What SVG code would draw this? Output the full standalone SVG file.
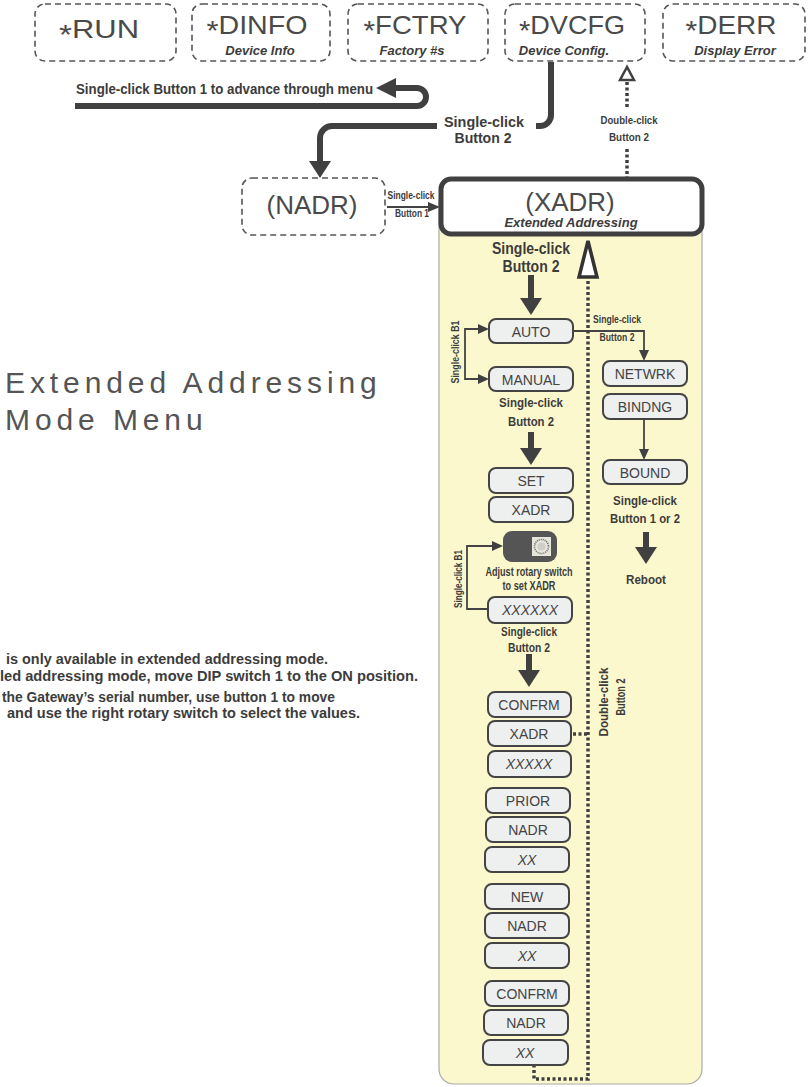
<svg xmlns="http://www.w3.org/2000/svg" width="809" height="1087" viewBox="0 0 809 1087">
<defs>
<style>
.dash{fill:#fff;stroke:#555;stroke-width:1.6;stroke-dasharray:6 4}
.big{font-family:"Liberation Sans",Arial,sans-serif;font-size:26px;fill:#4a4a4a;text-anchor:middle}
.star{font-size:28px}
.sub{font-family:"Liberation Sans",Arial,sans-serif;font-size:13px;font-weight:bold;font-style:italic;fill:#3c3c3c;text-anchor:middle}
.lbl{font-family:"Liberation Sans",Arial,sans-serif;font-weight:bold;fill:#3c3c3c;text-anchor:middle}
.lbls{font-family:"Liberation Sans",Arial,sans-serif;font-weight:bold;fill:#3c3c3c;text-anchor:start}
.box{fill:#eeefef;stroke:#444;stroke-width:2}
.bt{font-family:"Liberation Sans",Arial,sans-serif;font-size:14px;fill:#444;text-anchor:middle}
.it{font-style:italic}
.thick{fill:none;stroke:#404040;stroke-width:6}
.thin{fill:none;stroke:#444;stroke-width:1.8}
.dot{fill:none;stroke:#404040;stroke-width:3.5;stroke-dasharray:3 2.5}
.head{fill:#404040}
.note{font-family:"Liberation Sans",Arial,sans-serif;font-size:14px;font-weight:bold;fill:#3c3c3c}
.ttl{font-family:"Liberation Sans",Arial,sans-serif;font-size:30px;fill:#555;letter-spacing:4.9px}
</style>
</defs>
<rect width="809" height="1087" fill="#fff"/>

<g id="panel">
<path d="M439 200 V1069 A15 15 0 0 0 454 1084 H687 A15 15 0 0 0 702 1069 V200 Z" fill="#fcf8cd" stroke="#aaa" stroke-width="1.2"/>
</g>

<g id="title">
<text class="ttl" x="5" y="393">Extended Addressing</text>
<text class="ttl" x="5" y="430">Mode Menu</text>
</g>

<g id="notes">
<text class="note" x="6" y="664" textLength="322" lengthAdjust="spacingAndGlyphs">is only available in extended addressing mode.</text>
<text class="note" x="0" y="681" textLength="418" lengthAdjust="spacingAndGlyphs">led addressing mode, move DIP switch 1 to the ON position.</text>
<text class="note" x="2" y="702" textLength="333" lengthAdjust="spacingAndGlyphs">the Gateway’s serial number, use button 1 to move</text>
<text class="note" x="7" y="718" textLength="353" lengthAdjust="spacingAndGlyphs">and use the right rotary switch to select the values.</text>
</g>

<g id="run">
<rect class="dash" x="35" y="4" width="141" height="57" rx="10"/>
<text class="big" x="99" y="38" textLength="80" lengthAdjust="spacingAndGlyphs"><tspan class="star" dy="6">*</tspan><tspan dy="-6">RUN</tspan></text>
</g>
<g id="dinfo">
<rect class="dash" x="192" y="4" width="138" height="57" rx="10"/>
<text class="big" x="257" y="34" textLength="101" lengthAdjust="spacingAndGlyphs"><tspan class="star" dy="6">*</tspan><tspan dy="-6">DINFO</tspan></text>
<text class="sub" x="260" y="55">Device Info</text>
</g>
<g id="fctry">
<rect class="dash" x="348" y="4" width="140" height="57" rx="10"/>
<text class="big" x="415" y="34" textLength="103" lengthAdjust="spacingAndGlyphs"><tspan class="star" dy="6">*</tspan><tspan dy="-6">FCTRY</tspan></text>
<text class="sub" x="412" y="55">Factory #s</text>
</g>
<g id="dvcfg">
<rect class="dash" x="505" y="4" width="140" height="57" rx="10"/>
<text class="big" x="572" y="34" textLength="106" lengthAdjust="spacingAndGlyphs"><tspan class="star" dy="6">*</tspan><tspan dy="-6">DVCFG</tspan></text>
<text class="sub" x="564" y="55">Device Config.</text>
</g>
<g id="derr">
<rect class="dash" x="663" y="4" width="142" height="57" rx="10"/>
<text class="big" x="731" y="34" textLength="91" lengthAdjust="spacingAndGlyphs"><tspan class="star" dy="6">*</tspan><tspan dy="-6">DERR</tspan></text>
<text class="sub" x="735" y="55">Display Error</text>
</g>

<g id="nadr">
<rect class="dash" x="242" y="178" width="143" height="57" rx="10"/>
<text class="big" x="312" y="214">(NADR)</text>
</g>
<g id="xadr">
<rect x="441" y="179" width="261" height="55" rx="10" fill="#fff" stroke="#404040" stroke-width="5"/>
<text class="big" x="570" y="211">(XADR)</text>
<text class="sub" x="571" y="227">Extended Addressing</text>
</g>

<g id="connectors">
<path class="thick" d="M75 106 H417 A9 9 0 0 0 417 88 H394"/>
<polygon class="head" points="376,88 396,78 396,98"/>
<path class="thick" d="M551 62 V115 A11 11 0 0 1 540 126 H536"/>
<path class="thick" d="M437 126 H332 A12 12 0 0 0 320 138 V163"/>
<polygon class="head" points="309,161 331,161 320,178"/>
<path class="dot" d="M627 82 V108 M627 149 V178"/>
<polygon points="627,67 620,80 634,80" fill="#fff" stroke="#404040" stroke-width="2.5"/>
<path class="thin" d="M387 207 H430"/>
<polygon class="head" points="428,202 440,207 428,212"/>
<path class="thick" d="M531 275 V300"/>
<polygon class="head" points="520,298 542,298 531,315"/>
<path class="thick" d="M531 432 V450"/>
<polygon class="head" points="520,448 542,448 531,465"/>
<path class="thick" d="M529 654 V672"/>
<polygon class="head" points="518,670 540,670 529,687"/>
<path class="thick" d="M646 532 V549"/>
<polygon class="head" points="635,547 657,547 646,564"/>
<path class="thin" d="M479 329 H465 V379 H479"/>
<polygon class="head" points="478,324 489,329 478,334"/>
<polygon class="head" points="478,374 489,379 478,384"/>
<path class="thin" d="M573 331 H644 V351"/>
<polygon class="head" points="639,350 649,350 644,361"/>
<path class="thin" d="M644 419 V450"/>
<polygon class="head" points="639,449 649,449 644,460"/>
<path class="thin" d="M488 609 H467 V546 H493"/>
<polygon class="head" points="492,541 503,546 492,551"/>
<path class="dot" d="M588 281 V1079 H534 V1066 M573 734 H588"/>
<polygon points="588,241 579,277 597,277" fill="#fff" stroke="#333" stroke-width="3.5"/>
</g>

<g id="labels">
<text class="lbls" x="76" y="94" font-size="14" textLength="297" lengthAdjust="spacingAndGlyphs">Single-click Button 1 to advance through menu</text>
<text class="lbl" x="484" y="127" font-size="15" textLength="80" lengthAdjust="spacingAndGlyphs">Single-click</text>
<text class="lbl" x="483" y="143" font-size="15" textLength="57" lengthAdjust="spacingAndGlyphs">Button 2</text>
<text class="lbl" x="629" y="124" font-size="11" textLength="57" lengthAdjust="spacingAndGlyphs">Double-click</text>
<text class="lbl" x="629" y="141" font-size="11" textLength="40" lengthAdjust="spacingAndGlyphs">Button 2</text>
<text class="lbl" x="411" y="199" font-size="10" textLength="47" lengthAdjust="spacingAndGlyphs">Single-click</text>
<text class="lbl" x="412" y="217" font-size="10" textLength="34" lengthAdjust="spacingAndGlyphs">Button 1</text>
<text class="lbl" x="531" y="254" font-size="16" textLength="78" lengthAdjust="spacingAndGlyphs">Single-click</text>
<text class="lbl" x="531" y="272" font-size="16" textLength="57" lengthAdjust="spacingAndGlyphs">Button 2</text>
<text class="lbl" font-size="10" textLength="63" lengthAdjust="spacingAndGlyphs" transform="translate(459,352) rotate(-90)">Single-click B1</text>
<text class="lbl" x="617" y="323" font-size="10" textLength="48" lengthAdjust="spacingAndGlyphs">Single-click</text>
<text class="lbl" x="617" y="341" font-size="10" textLength="35" lengthAdjust="spacingAndGlyphs">Button 2</text>
<text class="lbl" x="531" y="407" font-size="13" textLength="64" lengthAdjust="spacingAndGlyphs">Single-click</text>
<text class="lbl" x="531" y="426" font-size="13" textLength="46" lengthAdjust="spacingAndGlyphs">Button 2</text>
<text class="lbl" x="645" y="505" font-size="13" textLength="64" lengthAdjust="spacingAndGlyphs">Single-click</text>
<text class="lbl" x="645" y="523" font-size="13" textLength="70" lengthAdjust="spacingAndGlyphs">Button 1 or 2</text>
<text class="lbl" x="646" y="584" font-size="13" textLength="40" lengthAdjust="spacingAndGlyphs">Reboot</text>
<text class="lbl" font-size="10" textLength="58" lengthAdjust="spacingAndGlyphs" transform="translate(462,579) rotate(-90)">Single-click B1</text>
<text class="lbl" x="529" y="576" font-size="12" textLength="87" lengthAdjust="spacingAndGlyphs">Adjust rotary switch</text>
<text class="lbl" x="529" y="590" font-size="12" textLength="53" lengthAdjust="spacingAndGlyphs">to set XADR</text>
<text class="lbl" x="529" y="636" font-size="12" textLength="56" lengthAdjust="spacingAndGlyphs">Single-click</text>
<text class="lbl" x="529" y="652" font-size="12" textLength="42" lengthAdjust="spacingAndGlyphs">Button 2</text>
<text class="lbl" font-size="13" textLength="69" lengthAdjust="spacingAndGlyphs" transform="translate(608,702) rotate(-90)">Double-click</text>
<text class="lbl" font-size="13" textLength="37" lengthAdjust="spacingAndGlyphs" transform="translate(625,697) rotate(-90)">Button 2</text>
</g>

<g id="auto"><rect class="box" x="489" y="319" width="84" height="24" rx="7"/><text class="bt" x="531" y="337">AUTO</text></g>
<g id="manual"><rect class="box" x="489" y="367" width="84" height="24" rx="7"/><text class="bt" x="531" y="385">MANUAL</text></g>
<g id="set"><rect class="box" x="489" y="468" width="84" height="25" rx="7"/><text class="bt" x="531" y="486">SET</text></g>
<g id="xadr2"><rect class="box" x="489" y="497" width="84" height="25" rx="7"/><text class="bt" x="531" y="515">XADR</text></g>
<g id="rotary">
<rect x="503" y="531" width="54" height="31" rx="9" fill="#555"/>
<rect x="532" y="537" width="19" height="19" fill="#e6e6dc"/>
<circle cx="541.5" cy="546.5" r="7" fill="none" stroke="#666" stroke-width="1.6" stroke-dasharray="1 1"/>
<circle cx="541.5" cy="546.5" r="4" fill="#cfcfc8"/>
</g>
<g id="xxxxxx"><rect class="box" x="488" y="597" width="84" height="26" rx="7"/><text class="bt it" x="530" y="615">XXXXXX</text></g>
<g id="confrm1"><rect class="box" x="488" y="692" width="83" height="25" rx="7"/><text class="bt" x="529" y="710">CONFRM</text></g>
<g id="xadr3"><rect class="box" x="488" y="721" width="83" height="25" rx="7"/><text class="bt" x="529" y="739">XADR</text></g>
<g id="xxxxx"><rect class="box" x="488" y="751" width="83" height="26" rx="7"/><text class="bt it" x="529" y="769">XXXXX</text></g>
<g id="prior"><rect class="box" x="486" y="788" width="84" height="25" rx="7"/><text class="bt" x="528" y="806">PRIOR</text></g>
<g id="nadr2"><rect class="box" x="486" y="817" width="84" height="25" rx="7"/><text class="bt" x="528" y="835">NADR</text></g>
<g id="xx1"><rect class="box" x="485" y="847" width="84" height="25" rx="7"/><text class="bt it" x="527" y="865">XX</text></g>
<g id="new"><rect class="box" x="485" y="884" width="84" height="25" rx="7"/><text class="bt" x="527" y="902">NEW</text></g>
<g id="nadr3"><rect class="box" x="485" y="913" width="84" height="25" rx="7"/><text class="bt" x="527" y="931">NADR</text></g>
<g id="xx2"><rect class="box" x="485" y="943" width="84" height="25" rx="7"/><text class="bt it" x="527" y="961">XX</text></g>
<g id="confrm2"><rect class="box" x="485" y="981" width="84" height="25" rx="7"/><text class="bt" x="527" y="999">CONFRM</text></g>
<g id="nadr4"><rect class="box" x="484" y="1010" width="84" height="25" rx="7"/><text class="bt" x="526" y="1028">NADR</text></g>
<g id="xx3"><rect class="box" x="483" y="1040" width="85" height="25" rx="7"/><text class="bt it" x="525" y="1058">XX</text></g>
<g id="netwrk"><rect class="box" x="603" y="361" width="84" height="25" rx="7"/><text class="bt" x="645" y="379">NETWRK</text></g>
<g id="bindng"><rect class="box" x="603" y="394" width="84" height="25" rx="7"/><text class="bt" x="645" y="412">BINDNG</text></g>
<g id="bound"><rect class="box" x="603" y="460" width="84" height="24" rx="7"/><text class="bt" x="645" y="478">BOUND</text></g>
</svg>
